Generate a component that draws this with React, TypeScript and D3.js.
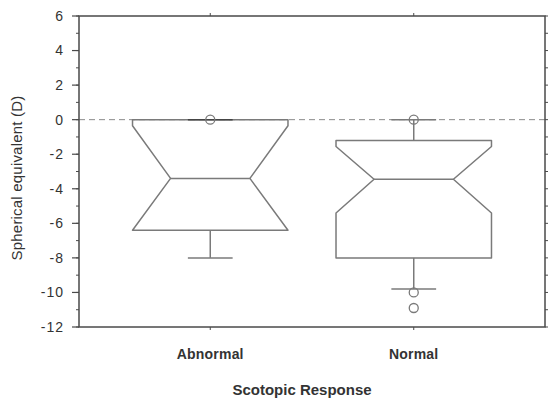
import React from "react";
import * as d3 from "d3";

const categories = ["Abnormal", "Normal"];
const whiskerLow = [-8, -9.8];
const q1 = [-6.4, -8];
const notchLow = [-6.4, -5.4];
const median = [-3.4, -3.45];
const notchHigh = [-0.35, -1.55];
const q3 = [0, -1.2];
const whiskerHigh = [0, 0];
const outliers = [[0], [0, -10, -10.9]];
const yTicks = [-12, -10, -8, -6, -4, -2, 0, 2, 4, 6];
const yMinorTicks = d3.range(-12, 7, 1);

const W = 548, H = 398;
const left = 79, right = 545, top = 16, bottom = 327;

export default function App() {
  const x = d3.scalePoint<string>().domain(categories).range([left, right]).padding(0.645);
  const y = d3.scaleLinear().domain([-12, 6]).range([bottom, top]);
  const step = x.step();
  const boxHalf = step * 0.382;
  const notchHalf = step * 0.195;
  const capHalf = step * 0.11;
  const font = "'Liberation Sans', Arial, sans-serif";
  const axisColor = "#4a4a4a";
  const boxColor = "#7a7a7a";
  const textColor = "#333";

  return (
    <div style={{ position: "fixed", left: 0, top: 0, width: W, height: H, overflow: "hidden" }}>
      <svg width={W} height={H} style={{ display: "block", background: "#fff" }}>
        <line x1={left} x2={right} y1={y(0)} y2={y(0)} stroke="#8a8a8a" strokeWidth={1} strokeDasharray="6,4" />

        {categories.map((c, i) => {
          const cx = x(c)!;
          const L = cx - boxHalf, R = cx + boxHalf;
          const pts: [number, number][] = [
            [L, y(q3[i])],
            [R, y(q3[i])],
            [R, y(notchHigh[i])],
            [cx + notchHalf, y(median[i])],
            [R, y(notchLow[i])],
            [R, y(q1[i])],
            [L, y(q1[i])],
            [L, y(notchLow[i])],
            [cx - notchHalf, y(median[i])],
            [L, y(notchHigh[i])],
          ];
          const path = d3.line()(pts) + "Z";
          return (
            <g key={c}>
              <path d={path} fill="none" stroke={boxColor} strokeWidth={1.5} strokeLinejoin="round" />
              <line x1={cx - notchHalf} x2={cx + notchHalf} y1={y(median[i])} y2={y(median[i])} stroke={boxColor} strokeWidth={1.5} />
              <line x1={cx} x2={cx} y1={y(q1[i])} y2={y(whiskerLow[i])} stroke={boxColor} strokeWidth={1.5} />
              <line x1={cx - capHalf} x2={cx + capHalf} y1={y(whiskerLow[i])} y2={y(whiskerLow[i])} stroke={boxColor} strokeWidth={1.5} />
              <line x1={cx} x2={cx} y1={y(q3[i])} y2={y(whiskerHigh[i])} stroke={boxColor} strokeWidth={1.5} />
              <line x1={cx - capHalf} x2={cx + capHalf} y1={y(whiskerHigh[i])} y2={y(whiskerHigh[i])} stroke={i === 0 ? "#444" : boxColor} strokeWidth={1.5} />
              {outliers[i].map((v, j) => (
                <circle key={j} cx={cx} cy={y(v)} r={4.5} fill="none" stroke={boxColor} strokeWidth={1.3} />
              ))}
            </g>
          );
        })}

        <rect x={left} y={top} width={right - left} height={bottom - top} fill="none" stroke={axisColor} strokeWidth={1.5} />

        {yMinorTicks.map((t) => (
          <line key={"lm" + t} x1={left - 3} x2={left} y1={y(t)} y2={y(t)} stroke={axisColor} strokeWidth={1} />
        ))}
        {yTicks.map((t) => (
          <g key={"l" + t}>
            <line x1={left - 7} x2={left} y1={y(t)} y2={y(t)} stroke={axisColor} strokeWidth={1.2} />
            <text x={64} y={y(t)} dy="0.35em" textAnchor="end" fontFamily={font} fontSize={14} fill={textColor} letterSpacing={1}>
              {t}
            </text>
          </g>
        ))}
        {yMinorTicks.map((t) => (
          <line key={"r" + t} x1={right} x2={right + 3} y1={y(t)} y2={y(t)} stroke={axisColor} strokeWidth={1} />
        ))}
        {categories.map((c) => (
          <g key={"t" + c}>
            <line x1={x(c)!} x2={x(c)!} y1={top} y2={top - 3} stroke={axisColor} strokeWidth={1} />
            <line x1={x(c)!} x2={x(c)!} y1={bottom} y2={bottom + 3} stroke={axisColor} strokeWidth={1} />
            <text x={x(c)!} y={354} dy="0.35em" textAnchor="middle" fontFamily={font} fontWeight="bold" fontSize={14} fill={textColor} letterSpacing={0.2}>
              {c}
            </text>
          </g>
        ))}

        <text x={302} y={390} dy="0.35em" textAnchor="middle" fontFamily={font} fontWeight="bold" fontSize={15} fill={textColor}>
          Scotopic Response
        </text>
        <text transform={`translate(17,178) rotate(-90)`} dy="0.35em" textAnchor="middle" fontFamily={font} fontSize={15} fill={textColor} letterSpacing={0.2}>
          Spherical equivalent (D)
        </text>
      </svg>
    </div>
  );
}
